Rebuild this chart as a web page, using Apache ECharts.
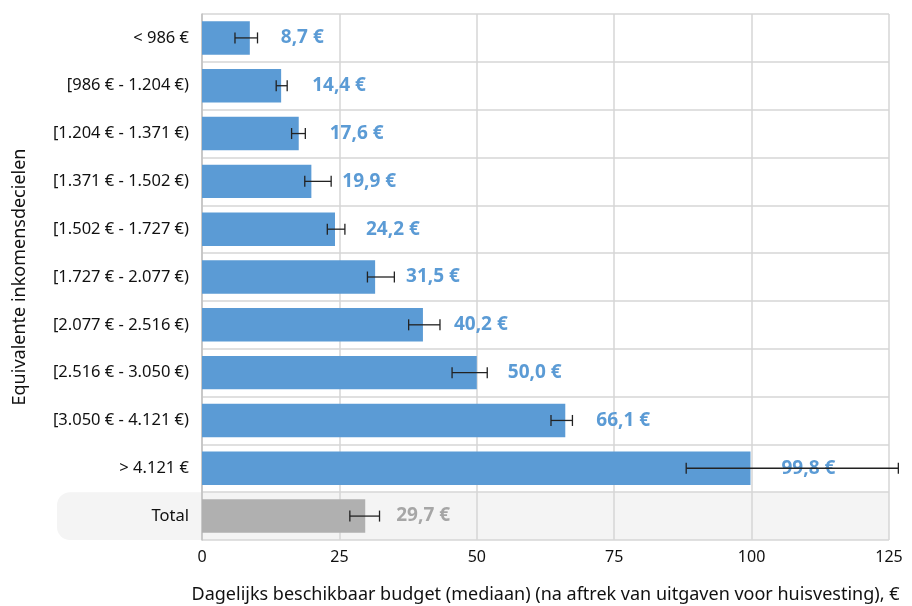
<!DOCTYPE html>
<html>
<head>
<meta charset="utf-8">
<script src="https://cdn.jsdelivr.net/npm/echarts@6/dist/echarts.min.js"></script>
<style>
  html, body { margin: 0; padding: 0; background: #fff; }
  #chart { width: 912px; height: 606px; }
</style>
</head>
<body>
<div id="chart"></div>
<script>
// inkomensdecielen
var categories = ['< 986 €', '[986 € - 1.204 €)', '[1.204 € - 1.371 €)', '[1.371 € - 1.502 €)',
  '[1.502 € - 1.727 €)', '[1.727 € - 2.077 €)', '[2.077 € - 2.516 €)', '[2.516 € - 3.050 €)',
  '[3.050 € - 4.121 €)', '> 4.121 €', 'Total'];
var medians = [8.7, 14.4, 17.6, 19.9, 24.2, 31.5, 40.2, 50.0, 66.1, 99.8, 29.7];
var lowerCI = [6.0, 13.5, 16.3, 18.7, 22.8, 30.1, 37.6, 45.5, 63.5, 88.1, 26.9];
var upperCI = [10.1, 15.5, 18.8, 23.5, 26.0, 35.0, 43.3, 51.9, 67.4, 126.7, 32.3];
var xTicks = [0, 25, 50, 75, 100, 125];

var BLUE = '#5b9bd5';
var GREY = '#b0b0b0';
var FONT = 'Noto Sans';

function isTotal(i) { return categories[i] === 'Total'; }

var barData = medians.map(function (v, i) {
  return {
    value: v,
    itemStyle: { color: isTotal(i) ? GREY : BLUE },
    label: { color: isTotal(i) ? '#a6a6a6' : BLUE }
  };
});
var errData = medians.map(function (v, i) {
  return [i, lowerCI[i], upperCI[i]];
});

var dom = document.getElementById('chart');
var myChart = echarts.init(dom);

var option = {
  animation: false,
  grid: { left: 202, right: 23, top: 14, bottom: 66, outerBoundsMode: 'none' },
  xAxis: {
    type: 'value',
    min: xTicks[0],
    max: xTicks[xTicks.length - 1],
    interval: 25,
    name: 'Dagelijks beschikbaar budget (mediaan) (na aftrek van uitgaven voor huisvesting), €',
    nameLocation: 'middle',
    nameGap: 46,
    nameTextStyle: { fontFamily: FONT, fontSize: 18, color: '#111' },
    axisLine: { show: false },
    axisTick: { show: false },
    axisLabel: { fontFamily: FONT, fontSize: 16, color: '#111', margin: 9 },
    splitLine: { show: true, lineStyle: { color: '#d6d6d6', width: 1.5 } }
  },
  yAxis: {
    type: 'category',
    inverse: true,
    data: categories,
    name: 'Equivalente inkomensdecielen',
    nameLocation: 'middle',
    nameGap: 173,
    nameRotate: 90,
    nameTextStyle: { fontFamily: FONT, fontSize: 18, color: '#111' },
    axisLine: { show: true, lineStyle: { color: '#c0c0c0', width: 1.5 } },
    axisTick: { show: false },
    axisLabel: { fontFamily: FONT, fontSize: 16.5, color: '#111', margin: 13 },
    splitLine: { show: true, lineStyle: { color: '#d6d6d6', width: 1.5 } }
  },
  series: [
    {
      type: 'bar',
      data: barData,
      barWidth: '70%',
      z: 3,
      label: {
        show: true,
        position: 'right',
        distance: 31,
        fontFamily: FONT,
        fontSize: 19,
        fontWeight: 'bold',
        formatter: function (p) {
          return p.value.toFixed(1).replace('.', ',') + ' €';
        }
      }
    },
    {
      type: 'custom',
      clip: false,
      z: 4,
      data: errData,
      encode: { x: [1, 2], y: 0 },
      renderItem: function (params, api) {
        var idx = api.value(0);
        var lo = api.coord([api.value(1), idx]);
        var hi = api.coord([api.value(2), idx]);
        var h = 5.5;
        var st = { stroke: '#222', lineWidth: 1.3 };
        return {
          type: 'group',
          children: [
            { type: 'line', shape: { x1: lo[0], y1: lo[1], x2: hi[0], y2: hi[1] }, style: st },
            { type: 'line', shape: { x1: lo[0], y1: lo[1] - h, x2: lo[0], y2: lo[1] + h }, style: st },
            { type: 'line', shape: { x1: hi[0], y1: hi[1] - h, x2: hi[0], y2: hi[1] + h }, style: st }
          ]
        };
      }
    }
  ]
};
myChart.setOption(option, true);

// lichtgrijze band achter de rij "Total"
var last = categories.length - 1;
var cTot = myChart.convertToPixel({ yAxisIndex: 0 }, categories[last]);
var cPrev = myChart.convertToPixel({ yAxisIndex: 0 }, categories[last - 1]);
var band = cTot - cPrev;
var xRight = myChart.convertToPixel({ xAxisIndex: 0 }, xTicks[xTicks.length - 1]);
myChart.setOption({
  graphic: {
    elements: [{
      type: 'rect',
      z: -1,
      silent: true,
      shape: { x: 57, y: cTot - band / 2, width: xRight - 57, height: band, r: [13, 0, 0, 13] },
      style: { fill: '#f4f4f4' }
    }]
  }
});
</script>
</body>
</html>
